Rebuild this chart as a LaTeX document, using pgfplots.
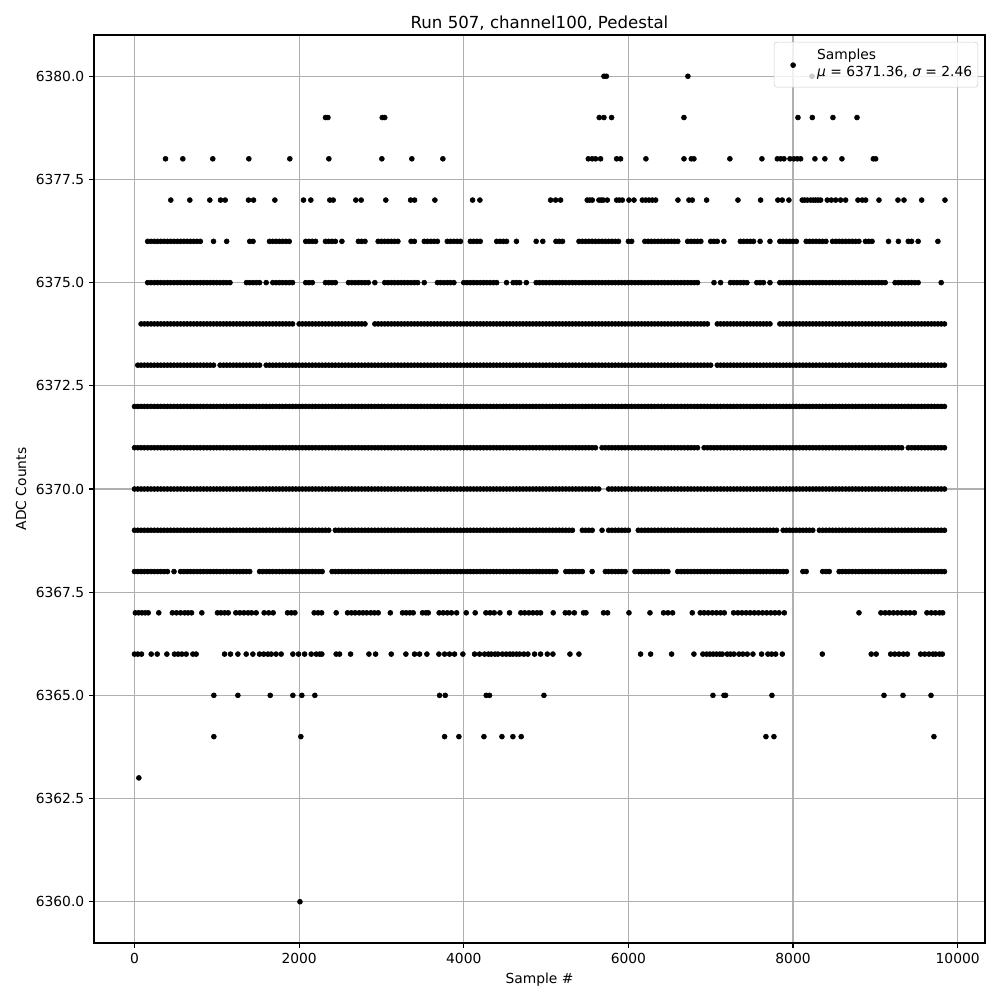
\documentclass[border=0pt]{standalone}
\usepackage{fontspec}
\setmainfont{DejaVu Sans}
\usepackage{pgfplots}
\usepackage{pgfplotstable}
\pgfplotsset{compat=1.18}
\definecolor{gridgray}{RGB}{176,176,176}
\definecolor{legframe}{RGB}{204,204,204}

% dense rows, columns: 6368 ... 6376 (nan = no sample near this x)
\pgfplotstableread{
x a b c d e f g h i
0 6368 6369 6370 6371 6372 nan nan nan nan
40 6368 6369 6370 6371 6372 6373 nan nan nan
80 6368 6369 6370 6371 6372 6373 6374 nan nan
120 6368 6369 6370 6371 6372 6373 6374 nan nan
160 6368 6369 6370 6371 6372 6373 6374 6375 6376
200 6368 6369 6370 6371 6372 6373 6374 6375 6376
240 6368 6369 6370 6371 6372 6373 6374 6375 6376
280 6368 6369 6370 6371 6372 6373 6374 6375 6376
320 6368 6369 6370 6371 6372 6373 6374 6375 6376
360 6368 6369 6370 6371 6372 6373 6374 6375 6376
400 6368 6369 6370 6371 6372 6373 6374 6375 6376
440 nan 6369 6370 6371 6372 6373 6374 6375 6376
480 6368 6369 6370 6371 6372 6373 6374 6375 6376
520 nan 6369 6370 6371 6372 6373 6374 6375 6376
560 6368 6369 6370 6371 6372 6373 6374 6375 6376
600 6368 6369 6370 6371 6372 6373 6374 6375 6376
640 6368 6369 6370 6371 6372 6373 6374 6375 6376
680 6368 6369 6370 6371 6372 6373 6374 6375 6376
720 6368 6369 6370 6371 6372 6373 6374 6375 6376
760 6368 6369 6370 6371 6372 6373 6374 6375 6376
800 6368 6369 6370 6371 6372 6373 6374 6375 6376
840 6368 6369 6370 6371 6372 6373 6374 6375 nan
880 6368 6369 6370 6371 6372 6373 6374 6375 nan
920 6368 6369 6370 6371 6372 6373 6374 6375 nan
960 6368 6369 6370 6371 6372 6373 6374 6375 6376
1000 6368 6369 6370 6371 6372 nan 6374 6375 nan
1040 6368 6369 6370 6371 6372 6373 6374 6375 nan
1080 6368 6369 6370 6371 6372 6373 6374 6375 nan
1120 6368 6369 6370 6371 6372 6373 6374 6375 6376
1160 6368 6369 6370 6371 6372 6373 6374 6375 nan
1200 6368 6369 6370 6371 6372 6373 6374 nan nan
1240 6368 6369 6370 6371 6372 6373 6374 nan nan
1280 6368 6369 6370 6371 6372 6373 6374 nan nan
1320 6368 6369 6370 6371 6372 6373 6374 nan nan
1360 6368 6369 6370 6371 6372 6373 6374 6375 nan
1400 6368 6369 6370 6371 6372 6373 6374 6375 6376
1440 nan 6369 6370 6371 6372 6373 6374 6375 6376
1480 nan 6369 6370 6371 6372 6373 6374 6375 nan
1520 6368 6369 6370 6371 6372 6373 6374 6375 nan
1560 6368 6369 6370 6371 6372 nan 6374 nan nan
1600 6368 6369 6370 6371 6372 6373 6374 6375 nan
1640 6368 6369 6370 6371 6372 6373 6374 nan 6376
1680 6368 6369 6370 6371 6372 6373 6374 6375 6376
1720 6368 6369 6370 6371 6372 6373 6374 6375 6376
1760 6368 6369 6370 6371 6372 6373 6374 6375 6376
1800 6368 6369 6370 6371 6372 6373 6374 6375 6376
1840 6368 6369 6370 6371 6372 6373 6374 6375 6376
1880 6368 6369 6370 6371 6372 6373 6374 6375 6376
1920 6368 6369 6370 6371 6372 6373 6374 6375 nan
1960 6368 6369 6370 6371 6372 6373 nan nan nan
2000 6368 6369 6370 6371 6372 6373 6374 nan nan
2040 6368 6369 6370 6371 6372 6373 6374 nan nan
2080 6368 6369 6370 6371 6372 6373 6374 6375 6376
2120 6368 6369 6370 6371 6372 6373 6374 6375 6376
2160 6368 6369 6370 6371 6372 6373 6374 6375 6376
2200 6368 6369 6370 6371 6372 6373 6374 nan 6376
2240 6368 6369 6370 6371 6372 6373 6374 nan nan
2280 6368 6369 6370 6371 6372 6373 6374 nan nan
2320 nan 6369 6370 6371 6372 6373 6374 6375 6376
2360 nan 6369 6370 6371 6372 6373 6374 6375 6376
2400 6368 nan 6370 6371 6372 6373 6374 6375 6376
2440 6368 6369 6370 6371 6372 6373 6374 6375 6376
2480 6368 6369 6370 6371 6372 6373 6374 nan nan
2520 6368 6369 6370 6371 6372 6373 6374 nan 6376
2560 6368 6369 6370 6371 6372 6373 6374 nan nan
2600 6368 6369 6370 6371 6372 6373 6374 6375 nan
2640 6368 6369 6370 6371 6372 6373 6374 6375 nan
2680 6368 6369 6370 6371 6372 6373 6374 6375 nan
2720 6368 6369 6370 6371 6372 6373 6374 6375 6376
2760 6368 6369 6370 6371 6372 6373 6374 6375 6376
2800 6368 6369 6370 6371 6372 6373 6374 6375 6376
2840 6368 6369 6370 6371 6372 6373 nan 6375 nan
2880 6368 6369 6370 6371 6372 6373 nan nan nan
2920 6368 6369 6370 6371 6372 6373 6374 6375 nan
2960 6368 6369 6370 6371 6372 6373 6374 nan 6376
3000 6368 6369 6370 6371 6372 6373 6374 nan 6376
3040 6368 6369 6370 6371 6372 6373 6374 6375 6376
3080 6368 6369 6370 6371 6372 6373 6374 6375 6376
3120 6368 6369 6370 6371 6372 6373 6374 6375 6376
3160 6368 6369 6370 6371 6372 6373 6374 6375 6376
3200 6368 6369 6370 6371 6372 6373 6374 6375 6376
3240 6368 6369 6370 6371 6372 6373 6374 6375 nan
3280 6368 6369 6370 6371 6372 6373 6374 6375 nan
3320 6368 6369 6370 6371 6372 6373 6374 6375 nan
3360 6368 6369 6370 6371 6372 6373 6374 6375 6376
3400 6368 6369 6370 6371 6372 6373 6374 6375 6376
3440 6368 6369 6370 6371 6372 6373 6374 6375 nan
3480 6368 6369 6370 6371 6372 6373 6374 nan nan
3520 6368 6369 6370 6371 6372 6373 6374 6375 6376
3560 6368 6369 6370 6371 6372 6373 6374 nan 6376
3600 6368 6369 6370 6371 6372 6373 6374 nan 6376
3640 6368 6369 6370 6371 6372 6373 6374 nan 6376
3680 6368 6369 6370 6371 6372 6373 6374 6375 6376
3720 6368 6369 6370 6371 6372 6373 6374 6375 nan
3760 6368 6369 6370 6371 6372 6373 6374 6375 nan
3800 6368 6369 6370 6371 6372 6373 6374 6375 6376
3840 6368 6369 6370 6371 6372 6373 6374 6375 6376
3880 6368 6369 6370 6371 6372 6373 6374 6375 6376
3920 6368 6369 6370 6371 6372 6373 6374 nan 6376
3960 6368 6369 6370 6371 6372 6373 6374 nan 6376
4000 6368 6369 6370 6371 6372 6373 6374 6375 nan
4040 6368 6369 6370 6371 6372 6373 6374 6375 nan
4080 6368 6369 6370 6371 6372 6373 6374 6375 6376
4120 6368 6369 6370 6371 6372 6373 6374 6375 6376
4160 6368 6369 6370 6371 6372 6373 6374 6375 6376
4200 6368 6369 6370 6371 6372 6373 6374 6375 6376
4240 6368 6369 6370 6371 6372 6373 6374 6375 nan
4280 6368 6369 6370 6371 6372 6373 6374 6375 nan
4320 6368 6369 6370 6371 6372 6373 6374 6375 nan
4360 6368 6369 6370 6371 6372 6373 6374 6375 nan
4400 6368 6369 6370 6371 6372 6373 6374 6375 6376
4440 6368 6369 6370 6371 6372 6373 6374 nan 6376
4480 6368 6369 6370 6371 6372 6373 6374 nan 6376
4520 6368 6369 6370 6371 6372 6373 6374 6375 6376
4560 6368 6369 6370 6371 6372 6373 6374 nan nan
4600 6368 6369 6370 6371 6372 6373 6374 6375 nan
4640 6368 6369 6370 6371 6372 6373 6374 6375 6376
4680 6368 6369 6370 6371 6372 6373 6374 6375 nan
4720 6368 6369 6370 6371 6372 6373 6374 nan nan
4760 6368 6369 6370 6371 6372 6373 6374 6375 nan
4800 6368 6369 6370 6371 6372 6373 6374 nan nan
4840 6368 6369 6370 6371 6372 6373 6374 nan nan
4880 6368 6369 6370 6371 6372 6373 6374 6375 6376
4920 6368 6369 6370 6371 6372 6373 6374 6375 nan
4960 6368 6369 6370 6371 6372 6373 6374 6375 6376
5000 6368 6369 6370 6371 6372 6373 6374 6375 nan
5040 6368 6369 6370 6371 6372 6373 6374 6375 nan
5080 6368 6369 6370 6371 6372 6373 6374 6375 nan
5120 6368 6369 6370 6371 6372 6373 6374 6375 6376
5160 nan 6369 6370 6371 6372 6373 6374 6375 6376
5200 nan 6369 6370 6371 6372 6373 6374 6375 6376
5240 6368 6369 6370 6371 6372 6373 6374 6375 nan
5280 6368 6369 6370 6371 6372 6373 6374 6375 nan
5320 6368 6369 6370 6371 6372 6373 6374 6375 nan
5360 6368 nan 6370 6371 6372 6373 6374 6375 nan
5400 6368 nan 6370 6371 6372 6373 6374 6375 6376
5440 6368 6369 6370 6371 6372 6373 6374 6375 6376
5480 nan 6369 6370 6371 6372 6373 6374 6375 6376
5520 nan 6369 6370 6371 6372 6373 6374 6375 6376
5560 6368 6369 6370 6371 6372 6373 6374 6375 6376
5600 nan nan 6370 6371 6372 6373 6374 6375 6376
5640 nan nan 6370 nan 6372 6373 6374 6375 6376
5680 nan 6369 nan 6371 6372 6373 6374 6375 6376
5720 6368 nan nan 6371 6372 6373 6374 6375 6376
5760 6368 6369 6370 6371 6372 6373 6374 6375 6376
5800 6368 6369 6370 6371 6372 6373 6374 6375 6376
5840 6368 6369 6370 6371 6372 6373 6374 6375 6376
5880 6368 6369 6370 6371 6372 6373 6374 6375 6376
5920 6368 6369 6370 6371 6372 6373 6374 6375 nan
5960 6368 6369 6370 6371 6372 6373 6374 6375 nan
6000 nan 6369 6370 6371 6372 6373 6374 6375 6376
6040 nan nan 6370 6371 6372 6373 6374 6375 6376
6080 6368 nan 6370 6371 6372 6373 6374 6375 nan
6120 6368 6369 6370 6371 6372 6373 6374 6375 nan
6160 6368 6369 6370 6371 6372 6373 6374 6375 nan
6200 6368 6369 6370 6371 6372 6373 6374 6375 6376
6240 6368 6369 6370 6371 6372 6373 6374 6375 6376
6280 6368 6369 6370 6371 6372 6373 6374 6375 6376
6320 6368 6369 6370 6371 6372 6373 6374 6375 6376
6360 6368 6369 6370 6371 6372 6373 6374 6375 6376
6400 6368 6369 6370 6371 6372 6373 6374 6375 6376
6440 6368 6369 6370 6371 6372 6373 6374 6375 6376
6480 6368 6369 6370 6371 6372 6373 6374 6375 6376
6520 nan 6369 6370 6371 6372 6373 6374 6375 6376
6560 nan 6369 6370 6371 6372 6373 6374 6375 6376
6600 6368 6369 6370 6371 6372 6373 6374 6375 6376
6640 6368 6369 6370 6371 6372 6373 6374 6375 nan
6680 6368 6369 6370 6371 6372 6373 6374 6375 nan
6720 6368 6369 6370 6371 6372 6373 6374 6375 6376
6760 6368 6369 6370 6371 6372 6373 6374 6375 6376
6800 6368 6369 6370 6371 6372 6373 6374 6375 6376
6840 6368 6369 6370 6371 6372 6373 6374 6375 6376
6880 6368 6369 6370 nan 6372 6373 6374 nan 6376
6920 6368 6369 6370 6371 6372 6373 6374 nan nan
6960 6368 6369 6370 6371 6372 6373 6374 nan nan
7000 6368 6369 6370 6371 6372 6373 nan nan 6376
7040 6368 6369 6370 6371 6372 nan nan 6375 6376
7080 6368 6369 6370 6371 6372 6373 6374 nan 6376
7120 6368 6369 6370 6371 6372 6373 6374 6375 nan
7160 6368 6369 6370 6371 6372 6373 6374 nan 6376
7200 6368 6369 6370 6371 6372 6373 6374 nan nan
7240 6368 6369 6370 6371 6372 6373 6374 6375 nan
7280 6368 6369 6370 6371 6372 6373 6374 6375 nan
7320 6368 6369 6370 6371 6372 6373 6374 6375 nan
7360 6368 6369 6370 6371 6372 6373 6374 6375 6376
7400 6368 6369 6370 6371 6372 6373 6374 6375 6376
7440 6368 6369 6370 6371 6372 6373 6374 6375 6376
7480 6368 6369 6370 6371 6372 6373 6374 nan 6376
7520 6368 6369 6370 6371 6372 6373 6374 nan 6376
7560 6368 6369 6370 6371 6372 6373 6374 6375 nan
7600 6368 6369 6370 6371 6372 6373 6374 6375 6376
7640 6368 6369 6370 6371 6372 6373 6374 6375 nan
7680 6368 6369 6370 6371 6372 6373 6374 nan nan
7720 6368 6369 6370 6371 6372 6373 6374 6375 6376
7760 6368 6369 6370 6371 6372 6373 nan nan nan
7800 6368 6369 6370 6371 6372 6373 nan nan nan
7840 6368 nan 6370 6371 6372 6373 6374 6375 6376
7880 6368 6369 6370 6371 6372 6373 6374 6375 6376
7920 6368 6369 6370 6371 6372 6373 6374 6375 6376
7960 nan 6369 6370 6371 6372 6373 6374 6375 6376
8000 nan 6369 6370 6371 6372 6373 6374 6375 6376
8040 nan 6369 6370 6371 6372 6373 6374 6375 6376
8080 nan 6369 6370 6371 6372 6373 6374 6375 nan
8120 6368 6369 6370 6371 6372 6373 6374 6375 nan
8160 6368 6369 6370 6371 6372 6373 6374 6375 6376
8200 nan 6369 6370 6371 6372 6373 6374 6375 6376
8240 nan 6369 6370 6371 6372 6373 6374 6375 6376
8280 nan nan 6370 6371 6372 6373 6374 6375 6376
8320 nan 6369 6370 6371 6372 6373 6374 6375 6376
8360 6368 6369 6370 6371 6372 6373 6374 6375 6376
8400 6368 6369 6370 6371 6372 6373 6374 6375 6376
8440 6368 6369 6370 6371 6372 6373 6374 6375 nan
8480 nan 6369 6370 6371 6372 6373 6374 6375 6376
8520 nan 6369 6370 6371 6372 6373 6374 6375 6376
8560 6368 6369 6370 6371 6372 6373 6374 6375 6376
8600 6368 6369 6370 6371 6372 6373 6374 6375 6376
8640 6368 6369 6370 6371 6372 6373 6374 6375 6376
8680 6368 6369 6370 6371 6372 6373 6374 6375 6376
8720 6368 6369 6370 6371 6372 6373 6374 6375 6376
8760 6368 6369 6370 6371 6372 6373 6374 6375 6376
8800 6368 6369 6370 6371 6372 6373 6374 6375 6376
8840 6368 6369 6370 6371 6372 6373 6374 6375 nan
8880 6368 6369 6370 6371 6372 6373 6374 6375 6376
8920 6368 6369 6370 6371 6372 6373 6374 6375 6376
8960 6368 6369 6370 6371 6372 6373 6374 6375 6376
9000 6368 6369 6370 6371 6372 6373 6374 6375 nan
9040 6368 6369 6370 6371 6372 6373 6374 6375 nan
9080 6368 6369 6370 6371 6372 6373 6374 6375 nan
9120 6368 6369 6370 6371 6372 6373 6374 6375 nan
9160 6368 6369 6370 6371 6372 6373 6374 nan 6376
9200 6368 6369 6370 6371 6372 6373 6374 nan nan
9240 6368 6369 6370 6371 6372 6373 6374 6375 nan
9280 6368 6369 6370 6371 6372 6373 6374 6375 6376
9320 6368 6369 6370 6371 6372 6373 6374 6375 nan
9360 6368 6369 6370 nan 6372 6373 6374 6375 nan
9400 6368 6369 6370 6371 6372 6373 6374 6375 6376
9440 6368 6369 6370 6371 6372 6373 6374 6375 6376
9480 6368 6369 6370 6371 6372 6373 6374 6375 nan
9520 6368 6369 6370 6371 6372 6373 6374 6375 6376
9560 6368 6369 6370 6371 6372 6373 6374 nan nan
9600 6368 6369 6370 6371 6372 6373 6374 nan nan
9640 6368 6369 6370 6371 6372 6373 6374 nan nan
9680 6368 6369 6370 6371 6372 6373 6374 nan nan
9720 6368 6369 6370 6371 6372 6373 6374 nan nan
9760 6368 6369 6370 6371 6372 6373 6374 nan 6376
9800 6368 6369 6370 6371 6372 6373 6374 6375 nan
9840 6368 6369 6370 6371 6372 6373 6374 nan nan
}\dense

\pgfplotsset{pt/.style={only marks, mark=*, mark size=1.8pt, black, mark options={line width=0.4pt}}}

\begin{document}
\fontsize{10}{12}\selectfont
\begin{tikzpicture}
\useasboundingbox (-67.93pt,-41.19pt) rectangle (654.74pt,681.49pt);
\begin{axis}[
  at={(0,0)}, anchor=south west,
  scale only axis, width=643.9pt, height=656.2pt,
  xmin=-492, xmax=10332, ymin=6359, ymax=6381,
  xtick={0,2000,4000,6000,8000,10000},
  ytick={6360,6362.5,6365,6367.5,6370,6372.5,6375,6377.5,6380},
  scaled ticks=false,
  /pgf/number format/assume math mode=true,
  xticklabel style={/pgf/number format/.cd, fixed, 1000 sep={}},
  yticklabel style={/pgf/number format/.cd, fixed, fixed zerofill, precision=1, 1000 sep={}},
  ticklabel style={font=\fontsize{10}{12}\selectfont},
  grid=major, major grid style={gridgray, line width=0.8pt},
  tick align=outside, tick pos=left, major tick length=3.5pt,
  every tick/.style={black, line width=0.8pt},
  axis line style={line width=0.8pt},
  title={Run 507, channel100, Pedestal},
  title style={font=\fontsize{12}{14}\selectfont, yshift=-6.5pt},
  xlabel={Sample \#}, ylabel={ADC Counts},
  label style={font=\fontsize{10}{12}\selectfont},
  legend style={at={(1,1)}, anchor=north east, xshift=-5pt, yshift=-5pt,
    draw=legframe, fill=white, fill opacity=0.8, text opacity=1,
    rounded corners=2pt, font=\fontsize{10}{12}\selectfont,
    inner xsep=2pt, inner ysep=2.3pt,
    cells={anchor=west}},
  legend image code/.code={%
    \path[draw=none, fill=none] (0pt,-17.9pt) rectangle (27pt,0pt);
    \draw[#1, fill opacity=1, draw opacity=1] plot coordinates {(11.7pt,-4.3pt)};},
]
\addplot[pt] coordinates {(5703,6380) (5732,6380) (6723,6380) (8230,6380)};
\addlegendentry{\begin{tabular}{@{}l@{}}Samples\\{\itshape μ} = 6371.36, {\itshape σ} = 2.46\end{tabular}}
\addplot[pt, forget plot] coordinates {(2320,6379) (2350,6379) (3010,6379) (3040,6379) (5646,6379) (5703,6379) (5796,6379) (6675,6379) (8060,6379) (8234,6379) (8485,6379) (8777,6379)};
\addplot[pt, forget plot] coordinates {(377,6378) (587,6378) (951,6378) (1389,6378) (1887,6378) (2361,6378) (3005,6378) (3369,6378) (3746,6378) (5513,6378) (5561,6378) (5601,6378) (5662,6378) (5857,6378) (5905,6378) (6213,6378) (6675,6378) (6764,6378) (6796,6378) (7233,6378) (7622,6378) (7809,6378) (7849,6378) (7890,6378) (7963,6378) (8011,6378) (8052,6378) (8092,6378) (8266,6378) (8387,6378) (8594,6378) (8975,6378) (9004,6378)};
\addplot[pt, forget plot] coordinates {(441,6377) (672,6377) (915,6377) (1045,6377) (1102,6377) (1385,6377) (1446,6377) (1705,6377) (2053,6377) (2142,6377) (2373,6377) (2414,6377) (2689,6377) (2754,6377) (3053,6377) (3354,6377) (3402,6377) (3649,6377) (4107,6377) (4196,6377) (5055,6377) (5116,6377) (5176,6377) (5500,6377) (5530,6377) (5561,6377) (5642,6377) (5670,6377) (5695,6377) (5744,6377) (5857,6377) (5890,6377) (5926,6377) (6007,6377) (6068,6377) (6169,6377) (6210,6377) (6250,6377) (6290,6377) (6331,6377) (6602,6377) (6736,6377) (6776,6377) (6950,6377) (7331,6377) (7606,6377) (7816,6377) (7869,6377) (7950,6377) (8112,6377) (8140,6377) (8173,6377) (8213,6377) (8245,6377) (8274,6377) (8305,6377) (8335,6377) (8416,6377) (8465,6377) (8518,6377) (8578,6377) (8639,6377) (8789,6377) (8842,6377) (8882,6377) (9044,6377) (9275,6377) (9348,6377) (9563,6377) (9846,6377)};
\addplot[pt, forget plot] table[x=x, y=i] {\dense};
\addplot[pt, forget plot] table[x=x, y=h] {\dense};
\addplot[pt, forget plot] table[x=x, y=g] {\dense};
\addplot[pt, forget plot] table[x=x, y=f] {\dense};
\addplot[pt, forget plot] table[x=x, y=e] {\dense};
\addplot[pt, forget plot] table[x=x, y=d] {\dense};
\addplot[pt, forget plot] table[x=x, y=c] {\dense};
\addplot[pt, forget plot] table[x=x, y=b] {\dense};
\addplot[pt, forget plot] table[x=x, y=a] {\dense};
\addplot[pt, forget plot] coordinates {(10,6367) (50,6367) (90,6367) (130,6367) (167,6367) (295,6367) (460,6367) (510,6367) (560,6367) (610,6367) (650,6367) (693,6367) (818,6367) (1008,6367) (1050,6367) (1095,6367) (1139,6367) (1231,6367) (1280,6367) (1330,6367) (1380,6367) (1422,6367) (1478,6367) (1575,6367) (1630,6367) (1685,6367) (1859,6367) (1905,6367) (1949,6367) (2183,6367) (2230,6367) (2273,6367) (2450,6367) (2588,6367) (2635,6367) (2680,6367) (2730,6367) (2775,6367) (2820,6367) (2870,6367) (2915,6367) (2961,6367) (3108,6367) (3256,6367) (3300,6367) (3345,6367) (3386,6367) (3499,6367) (3540,6367) (3569,6367) (3701,6367) (3750,6367) (3800,6367) (3850,6367) (3913,6367) (4030,6367) (4139,6367) (4269,6367) (4320,6367) (4370,6367) (4439,6367) (4556,6367) (4693,6367) (4740,6367) (4790,6367) (4840,6367) (4890,6367) (4933,6367) (5087,6367) (5233,6367) (5280,6367) (5343,6367) (5455,6367) (5484,6367) (5698,6367) (5747,6367) (6007,6367) (6262,6367) (6427,6367) (6480,6367) (6537,6367) (6776,6367) (6873,6367) (6920,6367) (6970,6367) (7020,6367) (7070,6367) (7120,6367) (7165,6367) (7278,6367) (7330,6367) (7380,6367) (7430,6367) (7480,6367) (7530,6367) (7580,6367) (7630,6367) (7680,6367) (7730,6367) (7780,6367) (7830,6367) (7894,6367) (8801,6367) (9068,6367) (9120,6367) (9170,6367) (9220,6367) (9270,6367) (9320,6367) (9370,6367) (9420,6367) (9474,6367) (9627,6367) (9680,6367) (9730,6367) (9780,6367) (9818,6367)};
\addplot[pt, forget plot] coordinates {(0,6366) (40,6366) (85,6366) (203,6366) (276,6366) (393,6366) (486,6366) (530,6366) (575,6366) (628,6366) (709,6366) (749,6366) (1094,6366) (1166,6366) (1256,6366) (1357,6366) (1438,6366) (1519,6366) (1570,6366) (1620,6366) (1661,6366) (1720,6366) (1782,6366) (1924,6366) (1993,6366) (2066,6366) (2147,6366) (2208,6366) (2250,6366) (2276,6366) (2450,6366) (2491,6366) (2625,6366) (2848,6366) (2929,6366) (3119,6366) (3297,6366) (3402,6366) (3463,6366) (3552,6366) (3698,6366) (3767,6366) (3827,6366) (3888,6366) (3989,6366) (4131,6366) (4192,6366) (4253,6366) (4300,6366) (4334,6366) (4380,6366) (4415,6366) (4470,6366) (4516,6366) (4560,6366) (4597,6366) (4640,6366) (4678,6366) (4730,6366) (4779,6366) (4860,6366) (4933,6366) (5015,6366) (5083,6366) (5290,6366) (5399,6366) (6148,6366) (6270,6366) (6525,6366) (6796,6366) (6905,6366) (6950,6366) (6990,6366) (7030,6366) (7070,6366) (7110,6366) (7140,6366) (7201,6366) (7240,6366) (7282,6366) (7343,6366) (7390,6366) (7444,6366) (7513,6366) (7618,6366) (7695,6366) (7740,6366) (7789,6366) (7870,6366) (8356,6366) (8950,6366) (9010,6366) (9186,6366) (9236,6366) (9287,6366) (9340,6366) (9389,6366) (9550,6366) (9600,6366) (9651,6366) (9700,6366) (9733,6366) (9780,6366) (9814,6366)};
\addplot[pt, forget plot] coordinates {(964,6365) (1256,6365) (1649,6365) (1924,6365) (2033,6365) (2191,6365) (3706,6365) (3775,6365) (4273,6365) (4313,6365) (4974,6365) (7027,6365) (7161,6365) (7181,6365) (7744,6365) (9105,6365) (9336,6365) (9676,6365)};
\addplot[pt, forget plot] coordinates {(964,6364) (2021,6364) (3767,6364) (3941,6364) (4245,6364) (4464,6364) (4597,6364) (4698,6364) (7671,6364) (7768,6364) (9712,6364)};
\addplot[pt, forget plot] coordinates {(53,6363) (2010,6360)};
\end{axis}
\end{tikzpicture}
\end{document}
